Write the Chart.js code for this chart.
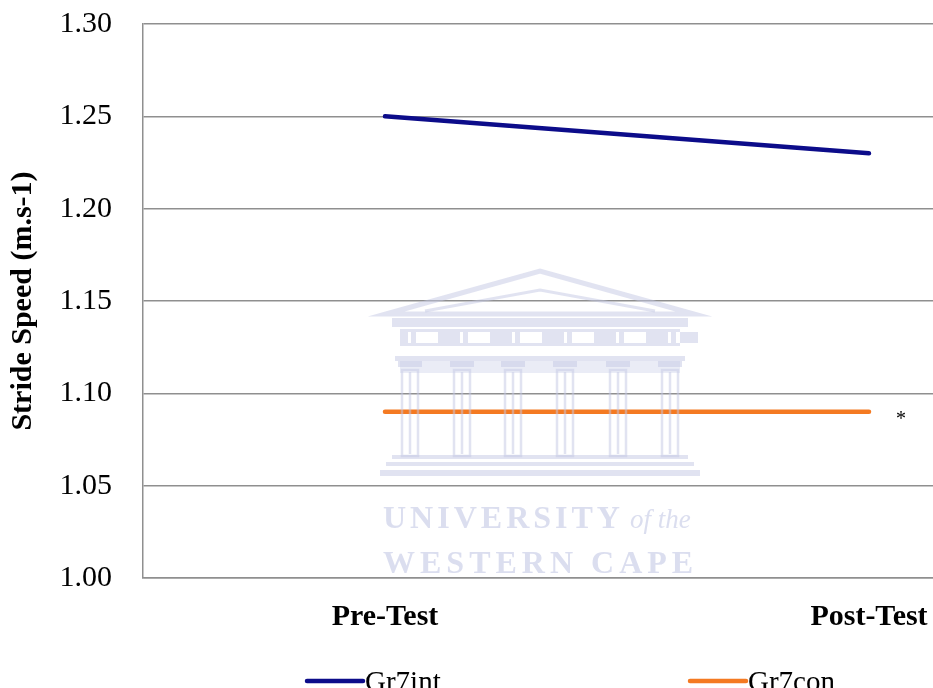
<!DOCTYPE html>
<html>
<head>
<meta charset="utf-8">
<script src="https://cdn.jsdelivr.net/npm/chart.js@4/dist/chart.umd.min.js"></script>
<style>
  body { margin: 0; background: #fff; }
  #wrap { width: 933px; height: 688px; overflow: hidden; position: relative; }
  #chart { display: block; }
</style>
</head>
<body>
<div id="wrap"><canvas id="chart" width="1150" height="688"></canvas></div>
<script>
// DATA
const categories = ['Pre-Test', 'Post-Test'];
const gr7int = [1.25, 1.23];
const gr7con = [1.09, 1.09];
const yTickValues = [1.00, 1.05, 1.10, 1.15, 1.20, 1.25, 1.30];
const seriesNames = ['Gr7int', 'Gr7con'];

const serif = "'Liberation Serif', 'Times New Roman', serif";
const gridGrey = '#8f8f8f';

// faint university crest, drawn over the plot like the original
function drawWatermark(ctx) {
    ctx.save();
    ctx.globalAlpha = 0.5;
    ctx.fillStyle = '#c3c8e4';
    ctx.strokeStyle = '#c3c8e4';
    // pediment
    ctx.lineWidth = 5;
    ctx.beginPath(); ctx.moveTo(386, 314); ctx.lineTo(540, 271); ctx.lineTo(694, 314); ctx.closePath(); ctx.stroke();
    ctx.lineWidth = 3;
    ctx.beginPath(); ctx.moveTo(425, 311); ctx.lineTo(540, 290); ctx.lineTo(655, 311); ctx.stroke();
    // cornice
    ctx.fillRect(392, 318, 296, 9);
    // frieze with metopes
    let p = new Path2D();
    p.rect(400, 329, 280, 17);
    for (let i = 0; i < 6; i++) {
        p.rect(416 + i * 52, 332, 22, 11);
        p.rect(408 + i * 52, 332, 3, 11);
    }
    ctx.fill(p, 'evenodd');
    // architrave
    ctx.fillRect(395, 356, 290, 5);
    ctx.globalAlpha = 0.35;
    ctx.fillRect(400, 361, 280, 12);
    ctx.globalAlpha = 0.5;
    // columns
    ctx.lineWidth = 2.5;
    [410, 462, 513, 565, 618, 670].forEach(cx => {
        ctx.fillRect(cx - 12, 361, 24, 6);
        ctx.strokeRect(cx - 8, 370, 16, 86);
        ctx.beginPath(); ctx.moveTo(cx, 372); ctx.lineTo(cx, 454); ctx.stroke();
    });
    // steps
    ctx.fillRect(392, 455, 296, 4);
    ctx.fillRect(386, 462, 308, 4);
    ctx.fillRect(380, 470, 320, 6);
    // lettering
    ctx.globalAlpha = 0.6;
    ctx.textBaseline = 'alphabetic';
    ctx.textAlign = 'left';
    ctx.font = "bold 32px " + serif;
    ctx.letterSpacing = '4px';
    ctx.fillText('UNIVERSITY', 383, 528);
    ctx.letterSpacing = '0px';
    ctx.font = "italic 27px " + serif;
    ctx.fillText('of the', 630, 528);
    ctx.font = "bold 32px " + serif;
    ctx.letterSpacing = '5px';
    ctx.fillText('WESTERN CAPE', 383, 573);
    ctx.restore();
}

const extras = {
    id: 'extras',
    afterDatasetsDraw(chart) {
        const ctx = chart.ctx;
        drawWatermark(ctx);
        // significance mark next to the Gr7con post-test value
        const x = chart.scales.x.getPixelForValue(1) + 32;
        const y = chart.scales.y.getPixelForValue(gr7con[1]);
        ctx.save();
        ctx.fillStyle = '#000';
        ctx.font = "20px " + serif;
        ctx.textAlign = 'center';
        ctx.textBaseline = 'middle';
        ctx.fillText('*', x, y + 8);
        ctx.restore();
    },
    afterDraw(chart) {
        // legend spread wide along the bottom, as in the original
        const ctx = chart.ctx;
        const starts = [307, 690];
        ctx.save();
        chart.data.datasets.forEach((ds, i) => {
            const x0 = starts[i];
            const y = 681;
            ctx.strokeStyle = ds.borderColor;
            ctx.lineWidth = 4.5;
            ctx.lineCap = 'round';
            ctx.beginPath(); ctx.moveTo(x0, y); ctx.lineTo(x0 + 56, y); ctx.stroke();
            ctx.fillStyle = '#000';
            ctx.font = "29px " + serif;
            ctx.textBaseline = 'middle';
            ctx.fillText(ds.label, x0 + 58, y + 2);
        });
        ctx.restore();
    }
};

var ctx = document.getElementById('chart').getContext('2d');
var myChart = new Chart(ctx, {
    type: 'line',
    data: {
        labels: categories,
        datasets: [{
            label: seriesNames[0],
            data: gr7int,
            borderColor: '#0c0c8a',
            backgroundColor: '#0c0c8a',
            borderWidth: 4.5,
            borderCapStyle: 'round',
            pointRadius: 0,
            fill: false
        },
        {
            label: seriesNames[1],
            data: gr7con,
            borderColor: '#f47a22',
            backgroundColor: '#f47a22',
            borderWidth: 4.5,
            borderCapStyle: 'round',
            pointRadius: 0,
            fill: false
        }]
    },
    options: {
        responsive: false,
        animation: false,
        layout: { padding: { left: 0, top: 24, right: 39, bottom: 60 } },
        scales: {
            x: {
                offset: true,
                grid: { display: false },
                border: { display: true, color: gridGrey, width: 1.5 },
                ticks: {
                    color: '#000',
                    padding: 13,
                    font: { family: serif, size: 30, weight: 'bold' }
                },
                afterFit: s => { s.height = 50; s.paddingLeft = 0; s.paddingRight = 0; }
            },
            y: {
                min: 1.0,
                max: 1.3,
                afterBuildTicks: s => { s.ticks = yTickValues.map(v => ({ value: v })); },
                grid: { color: gridGrey, lineWidth: 1.5, drawTicks: false },
                border: { display: true, color: gridGrey, width: 1.5 },
                ticks: {
                    color: '#000',
                    padding: 31,
                    font: { family: serif, size: 30 },
                    callback: v => Number(v).toFixed(2)
                },
                title: {
                    display: true,
                    text: 'Stride Speed (m.s-1)',
                    color: '#000',
                    padding: { top: 5, bottom: 0 },
                    font: { family: serif, size: 30, weight: 'bold' }
                },
                afterFit: s => { s.width = 143; s.paddingTop = 0; s.paddingBottom = 0; }
            }
        },
        plugins: {
            legend: { display: false },
            tooltip: { enabled: false }
        }
    },
    plugins: [extras]
});
</script>
</body>
</html>
